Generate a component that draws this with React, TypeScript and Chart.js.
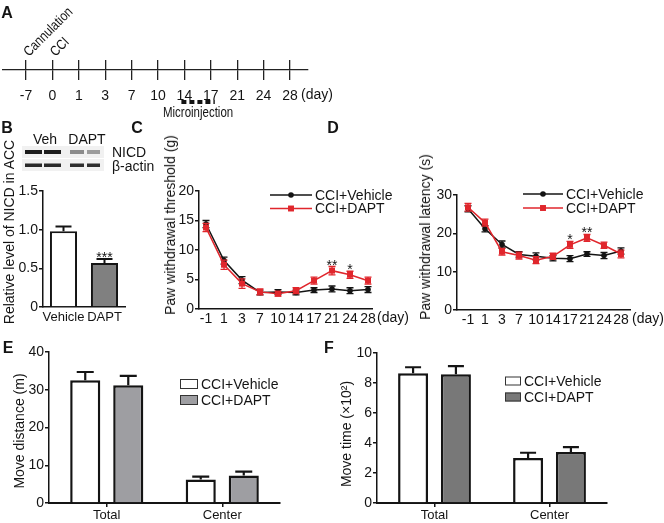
import React, { useEffect, useRef } from 'react';
import { Chart, registerables } from 'chart.js';

Chart.register(...registerables);

const SANS = "'Liberation Sans', Arial, Helvetica, sans-serif";
const NARROW = "'Liberation Sans Narrow', 'Arial Narrow', 'Liberation Sans', sans-serif";
const INK = '#141414';
const RED = '#e0262c';

// ---------------- data ----------------
// Panel A (timeline)
const timelineDays = ['-7', '0', '1', '3', '7', '10', '14', '17', '21', '24', '28'];
const timelineEventLabels = ['Cannulation', 'CCI'];
const timelineEventIdx = [0, 1];
const microinjectionFromIdx = 6;
const microinjectionToIdx = 7;

// Panel B
const bCategories = ['Vehicle', 'DAPT'];
const bValues = [0.98, 0.57];
const bErrors = [0.06, 0.05];
const bStars = ['', '***'];
const bTicks = [0, 0.5, 1.0, 1.5];
const blotNicdShade = ['#1c1c1c', '#1c1c1c', '#8c8c8c', '#9c9c9c'];
const blotActinShade = ['#2a2a2a', '#2a2a2a', '#2e2e2e', '#2e2e2e'];

// Panels C & D
const days = ['-1', '1', '3', '7', '10', '14', '17', '21', '24', '28'];
const seriesNames = ['CCI+Vehicle', 'CCI+DAPT'];

const cVehicle = [14.4, 8.2, 4.9, 2.8, 2.9, 2.8, 3.2, 3.4, 3.1, 3.3];
const cVehicleErr = [0.6, 0.6, 0.6, 0.4, 0.4, 0.4, 0.4, 0.5, 0.5, 0.5];
const cDapt = [13.8, 7.5, 4.3, 2.9, 2.6, 3.1, 4.8, 6.5, 5.8, 4.8];
const cDaptErr = [0.7, 0.8, 0.8, 0.5, 0.4, 0.5, 0.6, 0.7, 0.6, 0.6];
const cStars = ['', '', '', '', '', '', '', '**', '*', ''];
const cTicks = [0, 5, 10, 15, 20];

const dVehicle = [26.4, 21.2, 17.1, 14.5, 14.0, 13.5, 13.4, 14.6, 14.2, 15.4];
const dVehicleErr = [0.8, 0.8, 0.9, 0.7, 0.9, 0.7, 0.8, 0.6, 0.8, 0.8];
const dDapt = [26.8, 22.8, 15.2, 14.2, 13.0, 14.0, 17.0, 18.8, 16.9, 14.6];
const dDaptErr = [1.0, 0.9, 0.9, 0.9, 0.9, 0.8, 0.9, 0.9, 0.8, 1.0];
const dStars = ['', '', '', '', '', '', '*', '**', '', ''];
const dTicks = [0, 10, 20, 30];

// Panels E & F
const groups = ['Total', 'Center'];
const eVehicle = [32.5, 6.2];
const eVehicleErr = [2.2, 0.8];
const eDapt = [31.2, 7.3];
const eDaptErr = [2.5, 1.0];
const eTicks = [0, 10, 20, 30, 40];

const fVehicle = [8.65, 3.0];
const fVehicleErr = [0.4, 0.35];
const fDapt = [8.58, 3.4];
const fDaptErr = [0.55, 0.32];
const fTicks = [0, 2, 4, 6, 8, 10];

// ---------------- helpers ----------------
const fixWidth = (w: number) => (s: any) => { s.width = w; };
const fixHeight = (h: number) => (s: any) => { s.height = h; };
const valueOf = (d: any) => (typeof d === 'number' ? d : d.y);

function yAxis(min: number, max: number, ticks: number[], width: number, fmt?: (v: number) => string) {
  return {
    type: 'linear',
    min,
    max,
    afterBuildTicks: (s: any) => { s.ticks = ticks.map((v) => ({ value: v })); },
    afterFit: fixWidth(width),
    border: { display: true, color: INK, width: 1.5 },
    grid: { display: true, drawOnChartArea: false, drawTicks: true, tickLength: 4, color: INK, lineWidth: 1.5 },
    ticks: {
      padding: 1,
      color: INK,
      font: { family: SANS, size: 14 },
      callback: (v: number) => (fmt ? fmt(v) : String(v)),
    },
  };
}

function indexAxis(labels: string[], min: number, max: number, height: number) {
  return {
    type: 'linear',
    min,
    max,
    afterBuildTicks: (s: any) => { s.ticks = labels.map((_, i) => ({ value: i })); },
    afterFit: fixHeight(height),
    border: { display: true, color: INK, width: 1.5 },
    grid: { display: false, drawTicks: false },
    ticks: {
      autoSkip: false,
      maxRotation: 0,
      minRotation: 0,
      padding: 2,
      color: INK,
      font: { family: SANS, size: 14 },
      callback: (v: number) => labels[v] ?? '',
    },
  };
}

const errorBarPlugin = {
  id: 'errorBars',
  beforeDatasetDraw(chart: any, args: any) {
    const ds = chart.data.datasets[args.index];
    const errs: number[] | undefined = ds.errors;
    if (!errs) return;
    const meta = chart.getDatasetMeta(args.index);
    const ys = chart.scales[meta.yAxisID];
    const ctx = chart.ctx;
    ctx.save();
    ctx.strokeStyle = ds.errorColor ?? ds.borderColor;
    ctx.lineWidth = ds.errorWidth ?? 1.3;
    meta.data.forEach((el: any, i: number) => {
      const v = valueOf(ds.data[i]);
      const e = errs[i];
      const x = el.x;
      const top = ys.getPixelForValue(v + e);
      const bot = ds.errorMode === 'up' ? ys.getPixelForValue(v) : ys.getPixelForValue(v - e);
      const c = (ds.errorCap ?? 7) / 2;
      ctx.beginPath();
      ctx.moveTo(x, top);
      ctx.lineTo(x, bot);
      ctx.moveTo(x - c, top);
      ctx.lineTo(x + c, top);
      if (ds.errorMode !== 'up') {
        ctx.moveTo(x - c, bot);
        ctx.lineTo(x + c, bot);
      }
      ctx.stroke();
    });
    ctx.restore();
  },
};

const starPlugin = {
  id: 'stars',
  afterDatasetsDraw(chart: any) {
    const ctx = chart.ctx;
    chart.data.datasets.forEach((ds: any, di: number) => {
      if (!ds.stars) return;
      const meta = chart.getDatasetMeta(di);
      const ys = chart.scales[meta.yAxisID];
      ctx.save();
      ctx.fillStyle = INK;
      ctx.font = `14px ${SANS}`;
      ctx.textAlign = 'center';
      ctx.textBaseline = 'alphabetic';
      meta.data.forEach((el: any, i: number) => {
        const s = ds.stars[i];
        if (!s) return;
        const v = valueOf(ds.data[i]) + (ds.errors ? ds.errors[i] : 0);
        ctx.fillText(s, el.x, ys.getPixelForValue(v) + 3);
      });
      ctx.restore();
    });
  },
};

function innerLegend(cfg: { x: number; y: number; gap: number; kind: 'line' | 'box'; sampleW: number; boxH?: number; textGap: number }) {
  return {
    id: 'innerLegend',
    afterDraw(chart: any) {
      const ctx = chart.ctx;
      ctx.save();
      chart.data.datasets.forEach((ds: any, i: number) => {
        const cy = cfg.y + i * cfg.gap;
        if (cfg.kind === 'line') {
          ctx.strokeStyle = ds.borderColor;
          ctx.lineWidth = ds.borderWidth;
          ctx.beginPath();
          ctx.moveTo(cfg.x, cy);
          ctx.lineTo(cfg.x + cfg.sampleW, cy);
          ctx.stroke();
          const mx = cfg.x + cfg.sampleW / 2;
          ctx.fillStyle = ds.borderColor;
          if (ds.pointStyle === 'rect') {
            const s = ds.pointRadius * Math.SQRT1_2;
            ctx.fillRect(mx - s, cy - s, 2 * s, 2 * s);
          } else {
            ctx.beginPath();
            ctx.arc(mx, cy, ds.pointRadius, 0, Math.PI * 2);
            ctx.fill();
          }
        } else {
          const h = cfg.boxH ?? 9;
          ctx.fillStyle = ds.backgroundColor;
          ctx.fillRect(cfg.x, cy - h / 2, cfg.sampleW, h);
          ctx.strokeStyle = '#333';
          ctx.lineWidth = 1;
          ctx.strokeRect(cfg.x + 0.5, cy - h / 2 + 0.5, cfg.sampleW - 1, h - 1);
        }
        ctx.fillStyle = INK;
        ctx.font = `14px ${SANS}`;
        ctx.textAlign = 'left';
        ctx.textBaseline = 'middle';
        ctx.fillText(ds.label, cfg.x + cfg.sampleW + cfg.textGap, cy + 1);
      });
      ctx.restore();
    },
  };
}

function dayLabel(offset: number) {
  return {
    id: 'dayLabel',
    afterDraw(chart: any) {
      const xs = chart.scales.x;
      const ctx = chart.ctx;
      const last = xs.ticks.length - 1;
      ctx.save();
      ctx.fillStyle = INK;
      ctx.font = `14px ${SANS}`;
      ctx.textAlign = 'left';
      ctx.textBaseline = 'top';
      ctx.fillText('(day)', xs.getPixelForValue(last) + offset, chart.chartArea.bottom + 2);
      ctx.restore();
    },
  };
}

const timelinePlugin = {
  id: 'timeline',
  afterDraw(chart: any) {
    const ctx = chart.ctx;
    const xs = chart.scales.x;
    const top = chart.chartArea.top;
    const bottom = chart.chartArea.bottom;
    ctx.save();
    ctx.fillStyle = INK;
    ctx.font = `14px ${NARROW}`;
    timelineEventIdx.forEach((idx, k) => {
      const px = xs.getPixelForValue(idx);
      ctx.save();
      ctx.translate(px + 3, top - 3);
      ctx.rotate(-Math.PI / 4);
      ctx.scale(0.84, 1);
      ctx.textAlign = 'left';
      ctx.textBaseline = 'alphabetic';
      ctx.fillText(timelineEventLabels[k], 0, 0);
      ctx.restore();
    });
    const x0 = xs.getPixelForValue(microinjectionFromIdx) - 3;
    const x1 = xs.getPixelForValue(microinjectionToIdx) + 4;
    const dashY = bottom + 32;
    ctx.strokeStyle = INK;
    ctx.lineWidth = 4;
    ctx.setLineDash([5, 3]);
    ctx.beginPath();
    ctx.moveTo(x0, dashY);
    ctx.lineTo(x1, dashY);
    ctx.stroke();
    ctx.setLineDash([]);
    ctx.save();
    ctx.translate((x0 + x1) / 2, dashY + 11);
    ctx.scale(0.82, 1);
    ctx.textAlign = 'center';
    ctx.textBaseline = 'middle';
    ctx.fillText('Microinjection', 0, 0);
    ctx.restore();
    const last = xs.getPixelForValue(timelineDays.length - 1);
    ctx.textAlign = 'left';
    ctx.textBaseline = 'top';
    ctx.fillText('(day)', last + 11, bottom + 18);
    ctx.restore();
  },
};

const blotPlugin = {
  id: 'blot',
  afterDraw(chart: any) {
    const ctx = chart.ctx;
    const lanes = [[25, 42], [44, 61], [70, 84], [87, 100]];
    ctx.save();
    ctx.fillStyle = '#f1f1f1';
    ctx.fillRect(22, 16, 82, 12);
    ctx.fillRect(22, 29, 82, 12);
    ctx.filter = 'blur(0.7px)';
    lanes.forEach(([a, b], i) => {
      ctx.fillStyle = blotNicdShade[i];
      ctx.fillRect(a, 20, b - a, 4);
      ctx.fillStyle = blotActinShade[i];
      ctx.fillRect(a, 33.5, b - a, 3.5);
    });
    ctx.restore();
  },
};

const baseOptions = (padding: any) => ({
  animation: false,
  responsive: false,
  layout: { padding },
  plugins: { legend: { display: false }, tooltip: { enabled: false } },
});

// ---------------- configs ----------------
const aConfig = () => ({
  type: 'line',
  data: { datasets: [] },
  options: {
    ...baseOptions({ left: 3, top: 60, right: 32, bottom: 0 }),
    scales: {
      x: {
        type: 'linear',
        min: -0.871,
        max: 10.682,
        afterBuildTicks: (s: any) => { s.ticks = timelineDays.map((_, i) => ({ value: i })); },
        afterFit: fixHeight(55),
        border: { display: true, color: '#222', width: 1.3 },
        grid: { display: true, drawOnChartArea: true, drawTicks: true, tickLength: 10, color: '#222', lineWidth: 1.3 },
        ticks: {
          autoSkip: false,
          maxRotation: 0,
          padding: 8,
          color: INK,
          font: { family: NARROW, size: 14 },
          callback: (v: number) => timelineDays[v] ?? '',
        },
      },
      y: { display: false, min: 0, max: 1 },
    },
  },
  plugins: [timelinePlugin],
});

const bConfig = () => ({
  type: 'bar',
  data: {
    labels: bCategories,
    datasets: [
      {
        data: bValues,
        errors: bErrors,
        errorMode: 'up',
        errorCap: 16,
        errorWidth: 2,
        errorColor: INK,
        stars: bStars,
        backgroundColor: ['#ffffff', '#808080'],
        borderColor: INK,
        borderWidth: 2,
        categoryPercentage: 1,
        barPercentage: 0.66,
      },
    ],
  },
  options: {
    ...baseOptions({ left: 0, top: 61, right: 10, bottom: 0 }),
    scales: {
      x: {
        type: 'category',
        afterFit: fixHeight(23),
        border: { display: true, color: INK, width: 1.5 },
        grid: { display: false, drawTicks: false },
        ticks: { autoSkip: false, maxRotation: 0, minRotation: 0, padding: 3, color: INK, font: { family: SANS, size: 13 } },
      },
      y: yAxis(0, 1.5, bTicks, 43, (v) => (v === 0 ? '0' : v.toFixed(1))),
    },
  },
  plugins: [errorBarPlugin, starPlugin, blotPlugin],
});

const lineDataset = (label: string, vals: number[], errs: number[], stars: string[] | undefined, color: string, style: string, order: number) => ({
  label,
  data: vals.map((v, i) => ({ x: i, y: v })),
  errors: errs,
  stars,
  order,
  borderColor: color,
  backgroundColor: color,
  borderWidth: 1.5,
  tension: 0,
  pointStyle: style,
  pointRadius: style === 'rect' ? 4.2 : 2.8,
  pointBorderWidth: 0,
  pointBackgroundColor: color,
  pointBorderColor: color,
  errorCap: 7,
  errorWidth: 1.3,
});

const cConfig = () => ({
  type: 'line',
  data: {
    datasets: [
      lineDataset(seriesNames[0], cVehicle, cVehicleErr, undefined, INK, 'circle', 1),
      lineDataset(seriesNames[1], cDapt, cDaptErr, cStars, RED, 'rect', 0),
    ],
  },
  options: {
    ...baseOptions({ left: 0, top: 61, right: 40, bottom: 0 }),
    scales: {
      x: indexAxis(days, -0.389, 9.222, 21),
      y: yAxis(0, 20, cTicks, 49),
    },
  },
  plugins: [errorBarPlugin, starPlugin, innerLegend({ x: 120, y: 65, gap: 13.5, kind: 'line', sampleW: 42, textGap: 3 }), dayLabel(9)],
});

const dConfig = () => ({
  type: 'line',
  data: {
    datasets: [
      lineDataset(seriesNames[0], dVehicle, dVehicleErr, undefined, INK, 'circle', 1),
      lineDataset(seriesNames[1], dDapt, dDaptErr, dStars, RED, 'rect', 0),
    ],
  },
  options: {
    ...baseOptions({ left: 0, top: 65, right: 34, bottom: 0 }),
    scales: {
      x: indexAxis(days, -0.647, 9.53, 20),
      y: yAxis(0, 30, dTicks, 52),
    },
  },
  plugins: [errorBarPlugin, starPlugin, innerLegend({ x: 118, y: 64, gap: 14, kind: 'line', sampleW: 40, textGap: 3 }), dayLabel(11)],
});

const barDataset = (label: string, vals: number[], errs: number[], fill: string, cap: number) => ({
  label,
  data: vals,
  errors: errs,
  errorMode: 'up',
  errorCap: cap,
  errorWidth: 2.2,
  errorColor: INK,
  backgroundColor: fill,
  borderColor: INK,
  borderWidth: 2.5,
  categoryPercentage: 0.745,
  barPercentage: 0.7,
});

const groupAxis = (height: number) => ({
  type: 'category',
  afterFit: fixHeight(height),
  border: { display: true, color: INK, width: 2 },
  grid: { display: true, drawOnChartArea: false, drawTicks: true, tickLength: 4, offset: false, color: INK, lineWidth: 1.5 },
  ticks: { autoSkip: false, maxRotation: 0, padding: 1, color: INK, font: { family: SANS, size: 13 } },
});

const eConfig = () => ({
  type: 'bar',
  data: {
    labels: groups,
    datasets: [
      barDataset(seriesNames[0], eVehicle, eVehicleErr, '#ffffff', 17),
      barDataset(seriesNames[1], eDapt, eDaptErr, '#9e9ea2', 17),
    ],
  },
  options: {
    ...baseOptions({ left: 0, top: 22, right: 50, bottom: 0 }),
    scales: {
      x: groupAxis(20),
      y: yAxis(0, 40, eTicks, 49),
    },
  },
  plugins: [errorBarPlugin, innerLegend({ x: 180, y: 54, gap: 16, kind: 'box', sampleW: 18, boxH: 10, textGap: 3 })],
});

const fConfig = () => ({
  type: 'bar',
  data: {
    labels: groups,
    datasets: [
      barDataset(seriesNames[0], fVehicle, fVehicleErr, '#ffffff', 16),
      barDataset(seriesNames[1], fDapt, fDaptErr, '#787878', 16),
    ],
  },
  options: {
    ...baseOptions({ left: 0, top: 23, right: 57, bottom: 0 }),
    scales: {
      x: groupAxis(20),
      y: yAxis(0, 10, fTicks, 47),
    },
  },
  plugins: [errorBarPlugin, innerLegend({ x: 175, y: 51, gap: 16, kind: 'box', sampleW: 16, boxH: 9, textGap: 3 })],
});

// ---------------- components ----------------
function ChartBox(props: { left: number; top: number; width: number; height: number; config: () => any }) {
  const ref = useRef<HTMLCanvasElement>(null);
  useEffect(() => {
    const chart = new Chart(ref.current as HTMLCanvasElement, props.config() as any);
    return () => chart.destroy();
  }, []);
  const { left, top, width, height } = props;
  return (
    <canvas
      ref={ref}
      width={width}
      height={height}
      style={{ position: 'absolute', left, top, width, height }}
    />
  );
}

function Txt(props: { x: number; y: number; text: string; size?: number; bold?: boolean; align?: 'left' | 'center' }) {
  const { x, y, text, size = 14, bold = false, align = 'center' } = props;
  return (
    <div
      style={{
        position: 'absolute',
        left: x,
        top: y,
        transform: align === 'center' ? 'translate(-50%, -50%)' : 'translate(0, -50%)',
        whiteSpace: 'nowrap',
        font: `${bold ? 'bold ' : ''}${size}px ${SANS}`,
        lineHeight: 1,
        color: INK,
      }}
    >
      {text}
    </div>
  );
}

function VTitle(props: { x: number; y: number; text: string }) {
  return (
    <div
      style={{
        position: 'absolute',
        left: props.x,
        top: props.y,
        transform: 'translate(-50%, -50%) rotate(-90deg)',
        whiteSpace: 'nowrap',
        font: `14px ${SANS}`,
        lineHeight: 1,
        color: INK,
      }}
    >
      {props.text}
    </div>
  );
}

export default function App() {
  return (
    <div style={{ position: 'absolute', left: 0, top: 0, width: 664, height: 523, background: '#ffffff', overflow: 'hidden' }}>
      <ChartBox left={0} top={0} width={340} height={125} config={aConfig} />
      <ChartBox left={0} top={130} width={135} height={200} config={bConfig} />
      <ChartBox left={150} top={130} width={262} height={200} config={cConfig} />
      <ChartBox left={405} top={130} width={259} height={200} config={dConfig} />
      <ChartBox left={0} top={330} width={330} height={193} config={eConfig} />
      <ChartBox left={330} top={330} width={334} height={193} config={fConfig} />

      <Txt x={7} y={13} text="A" size={16} bold />
      <Txt x={7} y={128} text="B" size={16} bold />
      <Txt x={137} y={128} text="C" size={16} bold />
      <Txt x={333} y={128} text="D" size={16} bold />
      <Txt x={8} y={348} text="E" size={16} bold />
      <Txt x={329} y={348} text="F" size={16} bold />

      <Txt x={45} y={139} text="Veh" />
      <Txt x={87} y={139} text="DAPT" />
      <Txt x={112} y={152} text="NICD" align="left" />
      <Txt x={112} y={166} text="β-actin" align="left" />

      <VTitle x={9} y={232} text="Relative level of NICD in ACC" />
      <VTitle x={170} y={225} text="Paw withdrawal threshold (g)" />
      <VTitle x={425} y={237} text="Paw withdrawal latency (s)" />
      <VTitle x={19} y={431} text="Move distance (m)" />
      <VTitle x={346} y={434} text="Move time (×10²)" />
    </div>
  );
}
